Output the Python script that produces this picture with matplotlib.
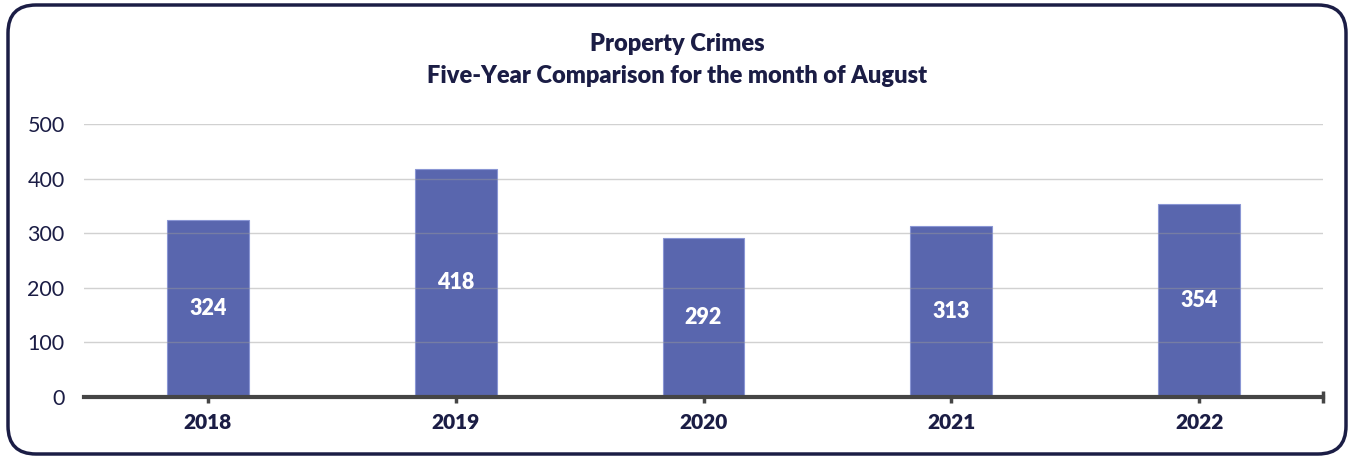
import matplotlib
matplotlib.use("Agg")
import matplotlib.pyplot as plt
from matplotlib.patches import FancyBboxPatch

years = ["2018", "2019", "2020", "2021", "2022"]
values = [324, 418, 292, 313, 354]
yticks = [0, 100, 200, 300, 400, 500]

navy = "#1b1d45"
plt.rcParams['font.family'] = ['Lato', 'DejaVu Sans']
bw = "heavy"

fig = plt.figure(figsize=(13.54, 4.59), dpi=100)
ax = fig.add_axes([84/1354, 1-397/459, (1323-84)/1354, (397-124)/459])

x = list(range(len(years)))
ax.bar(x, values, width=0.33, color="#5966ae", edgecolor="#8a96d4", linewidth=0.8, zorder=2)
for xi, v in zip(x, values):
    ax.text(xi, v/2, str(v), ha="center", va="center", color="white",
            fontsize=15.5, fontweight=bw, zorder=4)

ax.set_xlim(-0.5, 4.5)
ax.set_ylim(0, 500)
ax.set_yticks(yticks)
ax.set_yticklabels([str(t) for t in yticks], fontsize=15.5, color=navy)
for t in yticks[1:]:
    ax.axhline(t, color="#9a9a9a", linewidth=1, alpha=0.45, zorder=3)

ax.set_xticks(x + [4.5])
ax.set_xticklabels(years + [""], fontsize=15, fontweight=bw, color=navy)
ax.tick_params(axis="x", direction="inout", length=9, width=2.5, color="#454545", pad=7)
ax.tick_params(axis="y", length=0, pad=14)
for s in ["top", "right", "left"]:
    ax.spines[s].set_visible(False)
ax.spines["bottom"].set_color("#454545")
ax.spines["bottom"].set_linewidth(3)
ax.spines["bottom"].set_zorder(5)

fig.text(0.5, 1-44/459, "Property Crimes", ha="center", va="center",
         fontsize=17, fontweight=bw, color=navy)
fig.text(0.5, 1-76/459, "Five-Year Comparison for the month of August", ha="center", va="center",
         fontsize=17, fontweight=bw, color=navy)

border = FancyBboxPatch((0.08, 0.05), 13.38, 4.49,
                        boxstyle="round,pad=0,rounding_size=0.28",
                        transform=fig.dpi_scale_trans, fill=False, edgecolor=navy,
                        linewidth=2.5)
fig.patches.append(border)

fig.savefig("out.png", dpi=100)
